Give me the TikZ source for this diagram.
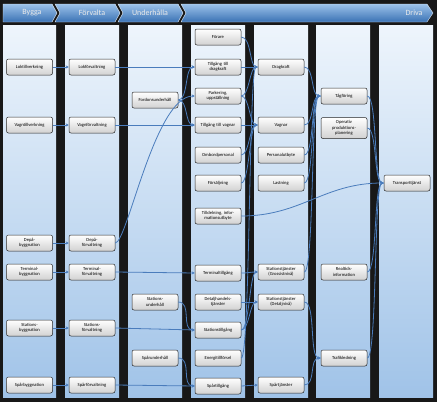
\documentclass[tikz,border=0pt]{standalone}
\usepackage{fontspec}
\setmainfont{Carlito}
\usetikzlibrary{arrows.meta}
\definecolor{bgdark}{HTML}{181818}
\definecolor{coltop}{HTML}{EEF5FC}
\definecolor{colbot}{HTML}{A0C3E8}
\definecolor{hdtop}{HTML}{9CC2EA}
\definecolor{hdbot}{HTML}{3A72B4}
\definecolor{arr}{HTML}{4A7CBC}
\tikzset{
  box/.style={draw=black!85, line width=0.5pt, rounded corners=2pt, top color=white, bottom color=black!18,
    minimum width=46pt, minimum height=16pt, text width=44pt, align=center, inner sep=1pt,
    font=\fontsize{4.6}{5.2}\selectfont},
  conn/.style={draw=arr, line width=0.8pt, -{Stealth[length=3pt,width=3pt]}},
  hdr/.style={draw=white!85!hdbot, line width=0.4pt, top color=hdtop, bottom color=hdbot},
  hdtext/.style={text=white!92!black, font=\fontsize{8}{9}\selectfont}
}
\begin{document}
\begin{tikzpicture}[x=1pt,y=-1pt]
\fill[bgdark] (0,0) rectangle (437,402);
\useasboundingbox (0,0) rectangle (437,402);
% columns
\foreach \a/\b in {3/56, 65/119, 128/182, 191/245, 254/308, 316/370, 379/433}{
  \fill[top color=coltop, bottom color=colbot] (\a,25) rectangle (\b,397);
}
% header
\shade[hdr] (181,4) -- (427,4) -- (433,13) -- (427,22) -- (181,22) -- (186,13) -- cycle;
\shade[hdr] (118,4) -- (178,4) -- (183,13) -- (178,22) -- (118,22) -- (123,13) -- cycle;
\shade[hdr] (55,4) -- (115,4) -- (120,13) -- (115,22) -- (55,22) -- (60,13) -- cycle;
\shade[hdr] (3,4) -- (52,4) -- (57,13) -- (52,22) -- (3,22) -- cycle;
\node[hdtext] (hb) at (32,13) {Bygga};
\node[hdtext] (hf) at (92,13) {Förvalta};
\node[hdtext] (hu) at (150,13) {Underhålla};
\node[hdtext] (hd) at (414,13) {Driva};
% column 1
\node[box] (b1) at (29.5,67) {Loktillverkning};
\node[box] (b2) at (29.5,125) {Vagntillverkning};
\node[box] (b3) at (29.5,243) {Depå-\\byggnation};
\node[box] (b4) at (29.5,272) {Terminal-\\byggnation};
\node[box] (b5) at (29.5,328) {Stations-\\byggnation};
\node[box] (b6) at (29.5,385) {Spårbyggnation};
% column 2
\node[box] (f1) at (92,67) {Lokförvaltning};
\node[box] (f2) at (92,125) {Vagnförvaltning};
\node[box] (f3) at (92,243) {Depå-\\förvaltning};
\node[box] (f4) at (92,272) {Terminal-\\förvaltning};
\node[box] (f5) at (92,328) {Stations-\\förvaltning};
\node[box] (f6) at (92,385) {Spårförvaltning};
% column 3
\node[box] (u1) at (155,100) {Fordonsunderhåll};
\node[box] (u2) at (155,302) {Stations-\\underhåll};
\node[box] (u3) at (155,358) {Spårunderhåll};
% column 4
\node[box] (fo) at (218,37) {Förare};
\node[box] (td) at (218,67) {Tillgång till\\dragkraft};
\node[box] (pa) at (218,96) {Parkering,\\uppställning};
\node[box] (tv) at (218,125) {Tillgång till vagnar};
\node[box] (ob) at (218,155) {Ombordpersonal};
\node[box] (fs) at (218,183) {Försäljning};
\node[box] (ti) at (218,216) {Tilldelning, infor-\\mationsutbyte};
\node[box] (tt) at (218,273) {Terminaltillgång};
\node[box] (dh) at (218,302) {Detaljhandels-\\tjänster};
\node[box] (st) at (218,330) {Stationstillgång};
\node[box] (en) at (218,358) {Energitillförsel};
\node[box] (sp) at (218,386) {Spårtillgång};
% column 5
\node[box] (dr) at (281,67) {Dragkraft};
\node[box] (va) at (281,125) {Vagnar};
\node[box] (pe) at (281,155) {Personalutbyte};
\node[box] (la) at (281,183) {Lastning};
\node[box] (sg) at (281,272) {Stationstjänster\\(Grossistnivå)};
\node[box] (sd) at (281,302) {Stationstjänster\\(Detaljnivå)};
\node[box] (sj) at (281,385) {Spårtjänster};
% column 6
\node[box] (tg) at (344,96) {Tågföring};
\node[box, minimum height=21pt] (op) at (344,128) {Operativ\\produktions-\\planering};
\node[box] (ri) at (344,272) {Realtids-\\information};
\node[box] (tl) at (344,358) {Trafikledning};
% column 7
\node[box] (tj) at (407,183) {Transporttjänst};
% connectors
\draw[conn] (b1) -- (f1);
\draw[conn] (b2) -- (f2);
\draw[conn] (b3) -- (f3);
\draw[conn] (b4) -- (f4);
\draw[conn] (b5) -- (f5);
\draw[conn] (b6) -- (f6);
\draw[conn] (f1) -- (td);
\draw[conn] (f2) -- (tv);
\draw[conn] (f3.east) .. controls +(12,0) and +(-40,0) .. (pa.west);
\draw[conn] (f4.east) -- (tt.west);
\draw[conn] (f5.east) -- (st.west);
\draw[conn] (f6.east) -- (sp.west);
\draw[conn] (u1.east) .. controls +(10,0) and +(-10,0) .. (td.west);
\draw[conn] (u1.east) .. controls +(10,0) and +(-10,0) .. (tv.west);
\draw[conn] (u2.east) .. controls +(14,0) and +(-14,0) .. (st.west);
\draw[conn] (u3.east) .. controls +(14,0) and +(-14,0) .. (sp.west);
\draw[conn] (fo.east) .. controls +(10,0) and +(-8,0) .. (dr.west);
\draw[conn] (td.east) -- (dr.west);
\draw[conn] (pa.east) .. controls +(8,0) and +(-8,0) .. (dr.west);
\draw[conn] (pa.east) .. controls +(8,0) and +(-8,0) .. (va.west);
\draw[conn] (tv.east) -- (va.west);
\draw[conn] (ob.east) .. controls +(8,0) and +(-8,0) .. (va.west);
\draw[conn] (fs.east) .. controls +(8,0) and +(-8,0) .. (va.west);
\draw[conn] (en.east) .. controls +(9,0) and +(-9,0) .. (dr.west);
\draw[conn] (tt.east) .. controls +(8,0) and +(-8,0) .. (sg.west);
\draw[conn] (dh.east) -- (sd.west);
\draw[conn] (st.east) .. controls +(8,0) and +(-8,0) .. (sg.west);
\draw[conn] (st.east) .. controls +(8,0) and +(-8,0) .. (sd.west);
\draw[conn] (sp.east) -- (sj.west);
\draw[conn] (dr.east) .. controls +(10,0) and +(-10,0) .. (tg.west);
\draw[conn] (va.east) .. controls +(10,0) and +(-10,0) .. (tg.west);
\draw[conn] (pe.east) .. controls +(10,0) and +(-10,0) .. (tg.west);
\draw[conn] (la.east) .. controls +(10,0) and +(-10,0) .. (tg.west);
\draw[conn] (sg.east) .. controls +(10,0) and +(-10,0) .. (tg.west);
\draw[conn] (sd.east) .. controls +(12,0) and +(-12,0) .. (tl.west);
\draw[conn] (sj.east) .. controls +(12,0) and +(-12,0) .. (tl.west);
\draw[conn] (ti.east) .. controls +(60,0) and +(-60,0) .. (tj.west);
\draw[conn] (tg.east) .. controls +(10,0) and +(-10,0) .. (tj.west);
\draw[conn] (op.east) .. controls +(10,0) and +(-10,0) .. (tj.west);
\draw[conn] (ri.east) .. controls +(10,0) and +(-10,0) .. (tj.west);
\draw[conn] (tl.east) .. controls +(10,0) and +(-10,0) .. (tj.west);
\end{tikzpicture}
\end{document}
